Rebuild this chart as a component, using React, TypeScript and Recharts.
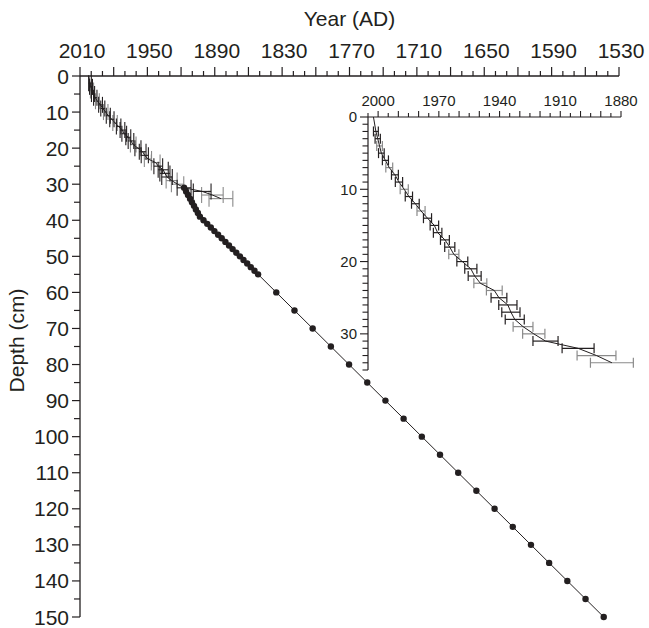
import React from 'react';
import { ScatterChart, Scatter, XAxis, YAxis, ErrorBar } from 'recharts';

// 210Pb-dated section of the core: depth (cm), age (year AD) and age error (years)
const datedDepth = [0, 2, 3, 4, 5, 6, 7, 8, 9, 10, 11, 12, 13, 14, 15, 16, 17, 18, 19, 20, 21, 22, 23, 24, 25, 26, 27, 28, 29, 30, 31, 32, 33, 34];
const datedYear = [
  2002.3, 2001.1, 2000.2, 1999.3, 1998.4, 1996.4, 1994.5, 1991.7, 1989.7, 1987.1, 1984.8,
  1981.6, 1978.8, 1975.6, 1972.2, 1970.6, 1967.0, 1964.6, 1962.6, 1958.4, 1954.2,
  1952.3, 1949.5, 1942.6, 1940.3, 1935.9, 1934.4, 1932.5, 1928.4, 1923.1, 1917.3,
  1901.2, 1892.1, 1884.5,
];
const datedError = [
  0, 1.2, 1.3, 1.4, 1.4, 1.5, 1.7, 1.7, 1.8, 2.0, 1.8,
  1.9, 2.0, 2.0, 2.1, 2.1, 2.2, 2.5, 2.5, 2.7, 3.0,
  3.2, 3.2, 3.9, 3.9, 4.5, 4.5, 4.7, 4.9, 5.5, 6.2,
  7.9, 9.6, 10.6,
];
// k = black error bar, g = grey error bar
const datedShade = [
  'k', 'k', 'k', 'g', 'k', 'k', 'g', 'k', 'k', 'g', 'k',
  'k', 'g', 'k', 'k', 'k', 'k', 'k', 'g', 'k', 'k',
  'k', 'g', 'g', 'k', 'k', 'k', 'k', 'g', 'g', 'k',
  'k', 'g', 'g',
];

// Age model below the dated section
const projDepth = [
  31, 32, 33, 34, 35, 36, 37, 38, 39, 40, 41, 42, 43, 44, 45, 46, 47, 48, 49, 50, 51, 52, 53, 54, 55,
  60, 65, 70, 75, 80, 85, 90, 95, 100, 105, 110, 115, 120, 125, 130, 135, 140, 145, 150,
];
const projYear = [
  1917.3, 1915.5, 1913.8, 1912.0, 1910.3, 1908.5, 1906.8, 1905.0, 1903.2, 1900.0,
  1896.7, 1893.5, 1890.3, 1887.0, 1883.8, 1880.5, 1877.3, 1874.1, 1870.8, 1867.6,
  1864.4, 1861.1, 1857.9, 1854.6, 1851.4,
  1835.2, 1819.0, 1802.8, 1786.6, 1770.4, 1754.2, 1738.0, 1721.8, 1705.6, 1689.4,
  1673.2, 1657.0, 1640.8, 1624.6, 1608.4, 1592.2, 1576.0, 1559.8, 1543.6,
];

const mainYearLabels = [2010, 1950, 1890, 1830, 1770, 1710, 1650, 1590, 1530];
const mainDepthLabels = [0, 10, 20, 30, 40, 50, 60, 70, 80, 90, 100, 110, 120, 130, 140, 150];
const insetYearLabels = [2000, 1970, 1940, 1910, 1880];
const insetDepthLabels = [0, 10, 20, 30];

const ink = '#231f20';
const grey = '#8a8a8a';
const font = '"Liberation Sans", Arial, Helvetica, sans-serif';

const range = (from: number, to: number, step: number) => {
  const out: number[] = [];
  for (let v = from; step > 0 ? v <= to : v >= to; v += step) out.push(v);
  return out;
};

const MainYearTick = ({ x, y, payload }: any) => {
  const v = payload.value;
  const long = (2010 - v) % 30 === 0;
  return (
    <g>
      <line x1={x} x2={x} y1={y} y2={y - (long ? 9 : 5)} stroke={ink} strokeWidth={1.2} />
      {mainYearLabels.includes(v) && (
        <text x={x + 2} y={y - 18} textAnchor="middle" fontSize={21} fontFamily={font} fill={ink}>{v}</text>
      )}
    </g>
  );
};

const MainDepthTick = ({ x, y, payload }: any) => {
  const v = payload.value;
  const major = mainDepthLabels.includes(v);
  return (
    <g>
      <line x1={x} x2={x - (major ? 8 : 6)} y1={y} y2={y} stroke={ink} strokeWidth={1.2} />
      {major && (
        <text x={x - 11} y={y} dy="0.36em" textAnchor="end" fontSize={21} fontFamily={font} fill={ink}>{v}</text>
      )}
    </g>
  );
};

const InsetYearTick = ({ x, y, payload }: any) => {
  const v = payload.value;
  const long = v % 10 === 0;
  return (
    <g>
      <line x1={x} x2={x} y1={y} y2={y - (long ? 6 : 4)} stroke={ink} strokeWidth={1.1} />
      {insetYearLabels.includes(v) && (
        <text x={x} y={y - 11} textAnchor="middle" fontSize={15} fontFamily={font} fill={ink}>{v}</text>
      )}
    </g>
  );
};

const InsetDepthTick = ({ x, y, payload }: any) => {
  const v = payload.value;
  const major = insetDepthLabels.includes(v);
  return (
    <g>
      <line x1={x} x2={x - (major ? 8 : 5.5)} y1={y} y2={y} stroke={ink} strokeWidth={1.1} />
      {major && (
        <text x={x - 11} y={y} dy="0.36em" textAnchor="end" fontSize={15} fontFamily={font} fill={ink}>{v}</text>
      )}
    </g>
  );
};

const NoMark = () => <g />;
const Dot = ({ cx, cy }: any) => <circle cx={cx} cy={cy} r={3.2} fill={ink} />;

export default function App() {
  const dated = datedDepth.map((depth, i) => ({ depth, year: datedYear[i], err: datedError[i] }));
  const datedDark = dated.filter((_, i) => datedShade[i] === 'k');
  const datedGrey = dated.filter((_, i) => datedShade[i] === 'g');
  const projected = projDepth.map((depth, i) => ({ depth, year: projYear[i] }));

  return (
    <div style={{ position: 'fixed', left: 0, top: 0, width: 649, height: 628, background: '#fff', fontFamily: font }}>
      <div style={{ position: 'absolute', left: 0, top: 0 }}>
        <ScatterChart width={649} height={628} margin={{ top: 0, right: 30, bottom: 11, left: 0 }}>
          <XAxis
            type="number"
            dataKey="year"
            orientation="top"
            domain={[1530, 2010]}
            reversed
            height={76}
            ticks={range(2010, 1530, -10)}
            interval={0}
            tick={<MainYearTick />}
            tickLine={false}
            tickSize={0}
            tickMargin={0}
            axisLine={{ stroke: ink, strokeWidth: 1.3 }}
            label={{ value: 'Year (AD)', position: 'insideTop', offset: 11, fontSize: 21, fill: ink, fontFamily: font }}
          />
          <YAxis
            type="number"
            dataKey="depth"
            domain={[0, 150]}
            reversed
            width={80}
            ticks={range(0, 150, 5)}
            interval={0}
            tick={<MainDepthTick />}
            tickLine={false}
            tickSize={0}
            tickMargin={0}
            axisLine={{ stroke: ink, strokeWidth: 1.3 }}
            label={{ value: 'Depth (cm)', angle: -90, position: 'insideLeft', offset: 17, dy: -6, fontSize: 21, fill: ink, fontFamily: font, style: { textAnchor: 'middle' } }}
          />
          <Scatter data={datedGrey} shape={<NoMark />} isAnimationActive={false}>
            <ErrorBar dataKey="err" direction="x" width={8} stroke={grey} strokeWidth={1.1} />
          </Scatter>
          <Scatter data={datedDark} shape={<NoMark />} isAnimationActive={false}>
            <ErrorBar dataKey="err" direction="x" width={8} stroke={ink} strokeWidth={1.1} />
          </Scatter>
          <Scatter data={dated} shape={<NoMark />} line={{ stroke: ink, strokeWidth: 1 }} lineType="joint" isAnimationActive={false} />
          <Scatter data={projected} shape={<Dot />} line={{ stroke: ink, strokeWidth: 1 }} lineType="joint" isAnimationActive={false} />
        </ScatterChart>
      </div>

      {/* close-up of the dated section */}
      <div style={{ position: 'absolute', left: 300, top: 80 }}>
        <ScatterChart width={340} height={300} margin={{ top: 7, right: 19, bottom: 10, left: 28 }}>
          <XAxis
            type="number"
            dataKey="year"
            orientation="top"
            domain={[1880, 2005]}
            reversed
            allowDataOverflow
            height={30}
            ticks={range(2005, 1880, -5)}
            interval={0}
            tick={<InsetYearTick />}
            tickLine={false}
            tickSize={0}
            tickMargin={0}
            axisLine={{ stroke: ink, strokeWidth: 1.2 }}
          />
          <YAxis
            type="number"
            dataKey="depth"
            domain={[0, 35]}
            reversed
            allowDataOverflow
            width={40}
            ticks={range(0, 35, 1)}
            interval={0}
            tick={<InsetDepthTick />}
            tickLine={false}
            tickSize={0}
            tickMargin={0}
            axisLine={{ stroke: ink, strokeWidth: 1.2 }}
          />
          <Scatter data={datedGrey} shape={<NoMark />} isAnimationActive={false}>
            <ErrorBar dataKey="err" direction="x" width={5} stroke={grey} strokeWidth={1.2} />
          </Scatter>
          <Scatter data={datedDark} shape={<NoMark />} isAnimationActive={false}>
            <ErrorBar dataKey="err" direction="x" width={5} stroke={ink} strokeWidth={1.2} />
          </Scatter>
          <Scatter data={dated} shape={<NoMark />} line={{ stroke: ink, strokeWidth: 1 }} lineType="joint" isAnimationActive={false} />
        </ScatterChart>
      </div>
    </div>
  );
}
